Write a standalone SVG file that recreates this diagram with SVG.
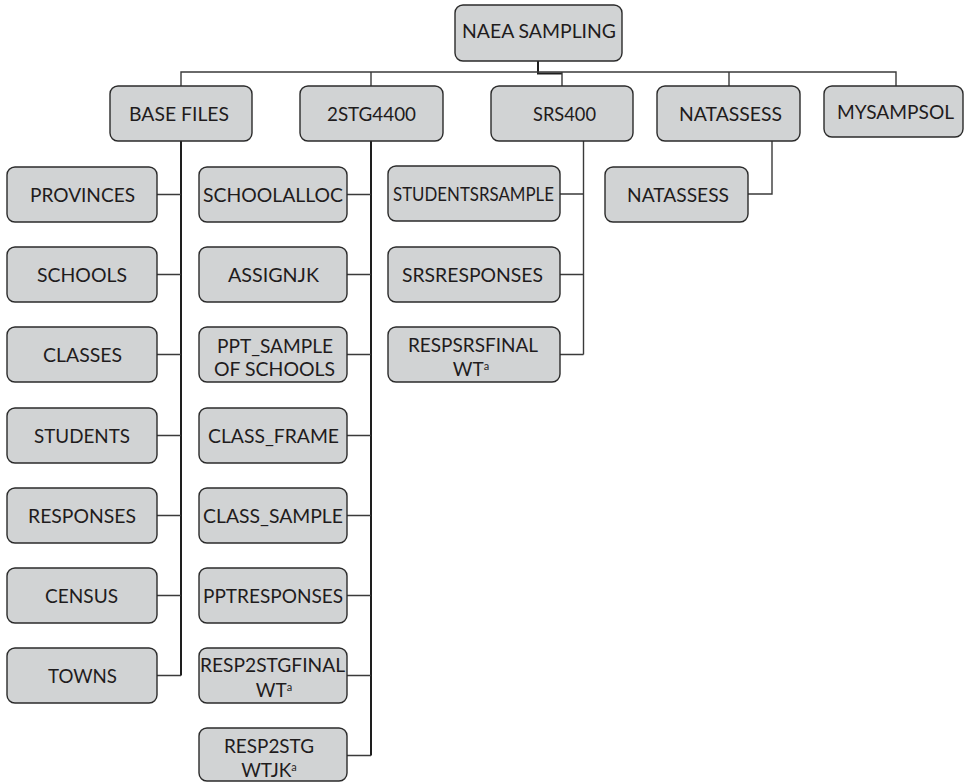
<svg xmlns="http://www.w3.org/2000/svg" width="965" height="782" viewBox="0 0 965 782">
<style>
.box{fill:#d1d3d4;stroke:#2b2b2b;stroke-width:1.4}
.t{font-family:Lato,"Liberation Sans",sans-serif;font-size:19px;fill:#1f1c1d;text-anchor:middle}
.sup{font-size:11px}
.stem{fill:none;stroke:#1e1e1e;stroke-width:2}
.br{fill:none;stroke:#3a3a3a;stroke-width:1.4}
</style>
<rect width="965" height="782" fill="#ffffff"/>
<g id="connectors">
<path class="stem" d="M538,61V73.5H562"/>
<path class="br" d="M181,86V72H896V86M371,72V86M562,72V86M729,72V86"/>
<path class="stem" d="M181,141V675.5"/>
<path class="br" d="M157,194.5H181M157,274.5H181M157,354.5H181M157,435.5H181M157,515.5H181M157,595.5H181M157,675.5H181"/>
<path class="stem" d="M371,141V755.5"/>
<path class="br" d="M347,194.5H371M347,274.5H371M347,354.5H371M347,435.5H371M347,515.5H371M347,595.5H371M347,675.5H371M347,755.5H371"/>
<path class="br" d="M583.5,141V354.5M560,194H583.5M560,274.5H583.5M560,354.5H583.5"/>
<path class="br" d="M772,141V194H748"/>
</g>
<g id="naea"><rect class="box" x="455" y="5" width="167" height="56" rx="8"/><text class="t" x="539" y="37.5" textLength="154" lengthAdjust="spacingAndGlyphs">NAEA SAMPLING</text></g>
<g id="basefiles"><rect class="box" x="110" y="86" width="142" height="55" rx="8"/><text class="t" x="179" y="121" textLength="100" lengthAdjust="spacingAndGlyphs">BASE FILES</text></g>
<g id="stg4400"><rect class="box" x="300" y="86" width="143" height="55" rx="8"/><text class="t" x="371.5" y="121" textLength="89" lengthAdjust="spacingAndGlyphs">2STG4400</text></g>
<g id="srs400"><rect class="box" x="491" y="86" width="142" height="55" rx="8"/><text class="t" x="564.5" y="121" textLength="63" lengthAdjust="spacingAndGlyphs">SRS400</text></g>
<g id="natassess"><rect class="box" x="657" y="86" width="143" height="55" rx="8"/><text class="t" x="730.5" y="121" textLength="103" lengthAdjust="spacingAndGlyphs">NATASSESS</text></g>
<g id="mysampsol"><rect class="box" x="824" y="86" width="139" height="51" rx="8"/><text class="t" x="895.5" y="119" textLength="117" lengthAdjust="spacingAndGlyphs">MYSAMPSOL</text></g>
<g id="provinces"><rect class="box" x="7" y="167" width="150" height="55" rx="8"/><text class="t" x="82.5" y="201.5" textLength="105" lengthAdjust="spacingAndGlyphs">PROVINCES</text></g>
<g id="schools"><rect class="box" x="7" y="247" width="150" height="55" rx="8"/><text class="t" x="82" y="281.5" textLength="90" lengthAdjust="spacingAndGlyphs">SCHOOLS</text></g>
<g id="classes"><rect class="box" x="7" y="327" width="150" height="55" rx="8"/><text class="t" x="82.5" y="361.5" textLength="79" lengthAdjust="spacingAndGlyphs">CLASSES</text></g>
<g id="students"><rect class="box" x="7" y="408" width="150" height="55" rx="8"/><text class="t" x="82" y="442.5" textLength="96" lengthAdjust="spacingAndGlyphs">STUDENTS</text></g>
<g id="responses"><rect class="box" x="7" y="488" width="150" height="55" rx="8"/><text class="t" x="82" y="522.5" textLength="108" lengthAdjust="spacingAndGlyphs">RESPONSES</text></g>
<g id="census"><rect class="box" x="7" y="568" width="150" height="55" rx="8"/><text class="t" x="81.5" y="602.5" textLength="73" lengthAdjust="spacingAndGlyphs">CENSUS</text></g>
<g id="towns"><rect class="box" x="7" y="648" width="150" height="55" rx="8"/><text class="t" x="82.5" y="682.5" textLength="69" lengthAdjust="spacingAndGlyphs">TOWNS</text></g>
<g id="schoolalloc"><rect class="box" x="199" y="167" width="148" height="55" rx="8"/><text class="t" x="273" y="201.5" textLength="140" lengthAdjust="spacingAndGlyphs">SCHOOLALLOC</text></g>
<g id="assignjk"><rect class="box" x="199" y="247" width="148" height="55" rx="8"/><text class="t" x="273.5" y="281.5" textLength="91" lengthAdjust="spacingAndGlyphs">ASSIGNJK</text></g>
<g id="pptsample"><rect class="box" x="199" y="327" width="148" height="55" rx="8"/><text class="t" x="275" y="353" textLength="116" lengthAdjust="spacingAndGlyphs">PPT_SAMPLE</text><text class="t" x="274.5" y="376" textLength="121" lengthAdjust="spacingAndGlyphs">OF SCHOOLS</text></g>
<g id="classframe"><rect class="box" x="199" y="408" width="148" height="55" rx="8"/><text class="t" x="273.5" y="442.5" textLength="131" lengthAdjust="spacingAndGlyphs">CLASS_FRAME</text></g>
<g id="classsample"><rect class="box" x="199" y="488" width="148" height="55" rx="8"/><text class="t" x="273" y="522.5" textLength="140" lengthAdjust="spacingAndGlyphs">CLASS_SAMPLE</text></g>
<g id="pptresponses"><rect class="box" x="199" y="568" width="148" height="55" rx="8"/><text class="t" x="273" y="602.5" textLength="140" lengthAdjust="spacingAndGlyphs">PPTRESPONSES</text></g>
<g id="resp2stgfinalwt"><rect class="box" x="199" y="648" width="148" height="55" rx="8"/><text class="t" x="272.5" y="672" textLength="145" lengthAdjust="spacingAndGlyphs">RESP2STGFINAL</text><text class="t" x="274" y="697">WT<tspan class="sup" dy="-6">a</tspan></text></g>
<g id="resp2stgwtjk"><rect class="box" x="199" y="728" width="148" height="53" rx="8"/><text class="t" x="269" y="753" textLength="90" lengthAdjust="spacingAndGlyphs">RESP2STG</text><text class="t" x="269" y="777">WTJK<tspan class="sup" dy="-6">a</tspan></text></g>
<g id="studentsrsample"><rect class="box" x="388" y="166" width="172" height="55" rx="8"/><text class="t" x="473.5" y="201" textLength="161" lengthAdjust="spacingAndGlyphs">STUDENTSRSAMPLE</text></g>
<g id="srsresponses"><rect class="box" x="388" y="247" width="172" height="55" rx="8"/><text class="t" x="472.5" y="281.5" textLength="141" lengthAdjust="spacingAndGlyphs">SRSRESPONSES</text></g>
<g id="respsrsfinalwt"><rect class="box" x="388" y="327" width="172" height="55" rx="8"/><text class="t" x="473" y="352" textLength="130" lengthAdjust="spacingAndGlyphs">RESPSRSFINAL</text><text class="t" x="471" y="376">WT<tspan class="sup" dy="-6">a</tspan></text></g>
<g id="natassess2"><rect class="box" x="605" y="167" width="143" height="55" rx="8"/><text class="t" x="678" y="201.5" textLength="102" lengthAdjust="spacingAndGlyphs">NATASSESS</text></g>
</svg>
